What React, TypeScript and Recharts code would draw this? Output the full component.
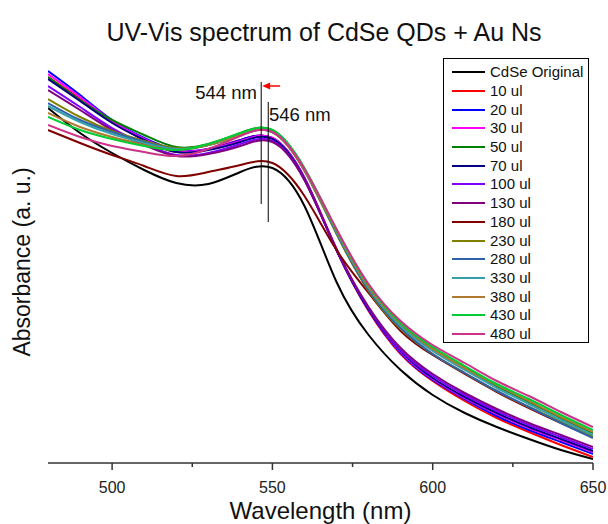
import { LineChart, Line, XAxis, YAxis, ReferenceLine } from 'recharts';

// wavelength (nm)
const WAVELENGTHS = [480, 490, 500, 510, 520, 530, 540, 550, 560, 570, 580, 590, 600, 610, 620, 630, 640, 650];

// absorbance (a. u.)
const CDSE_ORIGINAL = [3.55, 3.30, 3.10, 2.93, 2.80, 2.79, 2.91, 2.95, 2.57, 1.81, 1.28, 0.93, 0.68, 0.50, 0.36, 0.24, 0.13, 0.04];
const UL_10 = [3.86, 3.64, 3.41, 3.23, 3.11, 3.14, 3.23, 3.25, 2.85, 2.13, 1.52, 1.09, 0.82, 0.62, 0.45, 0.31, 0.18, 0.06];
const UL_20 = [3.92, 3.68, 3.43, 3.25, 3.13, 3.14, 3.23, 3.25, 2.85, 2.13, 1.53, 1.10, 0.83, 0.64, 0.47, 0.33, 0.21, 0.09];
const UL_30 = [3.89, 3.66, 3.42, 3.24, 3.12, 3.14, 3.22, 3.25, 2.85, 2.14, 1.54, 1.11, 0.84, 0.65, 0.49, 0.35, 0.23, 0.11];
const UL_50 = [3.86, 3.63, 3.43, 3.28, 3.16, 3.19, 3.30, 3.33, 2.94, 2.32, 1.76, 1.38, 1.14, 0.95, 0.77, 0.61, 0.45, 0.30];
const UL_70 = [3.84, 3.62, 3.40, 3.23, 3.11, 3.13, 3.21, 3.24, 2.84, 2.13, 1.54, 1.12, 0.85, 0.66, 0.50, 0.36, 0.24, 0.12];
const UL_100 = [3.77, 3.56, 3.35, 3.19, 3.08, 3.10, 3.19, 3.22, 2.83, 2.13, 1.55, 1.13, 0.87, 0.68, 0.52, 0.38, 0.26, 0.14];
const UL_130 = [3.73, 3.53, 3.33, 3.18, 3.07, 3.09, 3.17, 3.21, 2.83, 2.14, 1.56, 1.15, 0.89, 0.70, 0.54, 0.40, 0.28, 0.16];
const UL_180 = [3.33, 3.20, 3.08, 2.97, 2.87, 2.91, 2.98, 3.00, 2.67, 2.13, 1.70, 1.32, 1.08, 0.89, 0.71, 0.55, 0.40, 0.26];
const UL_230 = [3.64, 3.46, 3.32, 3.22, 3.15, 3.18, 3.28, 3.31, 2.92, 2.29, 1.72, 1.34, 1.09, 0.90, 0.72, 0.56, 0.41, 0.26];
const UL_280 = [3.60, 3.43, 3.31, 3.21, 3.14, 3.18, 3.28, 3.31, 2.93, 2.30, 1.73, 1.35, 1.09, 0.90, 0.72, 0.56, 0.40, 0.25];
const UL_330 = [3.57, 3.41, 3.29, 3.20, 3.14, 3.18, 3.28, 3.31, 2.93, 2.31, 1.75, 1.37, 1.12, 0.93, 0.75, 0.59, 0.43, 0.28];
const UL_380 = [3.50, 3.36, 3.26, 3.18, 3.13, 3.18, 3.28, 3.31, 2.93, 2.32, 1.76, 1.39, 1.14, 0.95, 0.78, 0.62, 0.46, 0.31];
const UL_430 = [3.46, 3.33, 3.24, 3.17, 3.13, 3.19, 3.30, 3.33, 2.95, 2.33, 1.78, 1.40, 1.16, 0.97, 0.79, 0.64, 0.48, 0.33];
const UL_480 = [3.38, 3.26, 3.17, 3.11, 3.07, 3.14, 3.27, 3.31, 2.94, 2.34, 1.79, 1.42, 1.18, 1.00, 0.82, 0.67, 0.51, 0.36];

const X_TICKS = [500, 525, 550, 575, 600, 625, 650];
const X_LABELED = [500, 550, 600, 650];

const SERIES = [
  { key: 'cdse', name: 'CdSe Original', color: '#000000', values: CDSE_ORIGINAL },
  { key: 'u10', name: '10 ul', color: '#FF0000', values: UL_10 },
  { key: 'u20', name: '20 ul', color: '#0000FF', values: UL_20 },
  { key: 'u30', name: '30 ul', color: '#FF00FF', values: UL_30 },
  { key: 'u50', name: '50 ul', color: '#008000', values: UL_50 },
  { key: 'u70', name: '70 ul', color: '#000080', values: UL_70 },
  { key: 'u100', name: '100 ul', color: '#8000FF', values: UL_100 },
  { key: 'u130', name: '130 ul', color: '#800080', values: UL_130 },
  { key: 'u180', name: '180 ul', color: '#800000', values: UL_180 },
  { key: 'u230', name: '230 ul', color: '#808000', values: UL_230 },
  { key: 'u280', name: '280 ul', color: '#2F62A8', values: UL_280 },
  { key: 'u330', name: '330 ul', color: '#33A0AA', values: UL_330 },
  { key: 'u380', name: '380 ul', color: '#B07830', values: UL_380 },
  { key: 'u430', name: '430 ul', color: '#00CC33', values: UL_430 },
  { key: 'u480', name: '480 ul', color: '#CC3388', values: UL_480 },
];

const data = WAVELENGTHS.map((wl, i) => {
  const row: Record<string, number> = { wl };
  SERIES.forEach(s => { row[s.key] = s.values[i]; });
  return row;
});

const FONT = '"Liberation Sans", Arial, sans-serif';
const AXIS = '#333';

function BottomTick({ x, y, payload }: any) {
  const major = X_LABELED.includes(payload.value);
  return (
    <g>
      <line x1={x} x2={x} y1={y} y2={y + (major ? 7 : 4)} stroke={AXIS} strokeWidth={1.5} />
      {major && (
        <text x={x} y={y + 30} textAnchor="middle" fontSize={16} fill="#222" fontFamily={FONT}>
          {payload.value}
        </text>
      )}
    </g>
  );
}

function TopTick({ x, y, payload }: any) {
  const major = X_LABELED.includes(payload.value);
  return <line x1={x} x2={x} y1={y} y2={y + (major ? 5 : 3)} stroke={AXIS} strokeWidth={1.5} />;
}

// red arrow pointing at the shifted peak
function Arrow(p: any) {
  const { x1, y1, x2, y2 } = p;
  return (
    <g>
      <line x1={x1} y1={y1} x2={x2 + 5} y2={y2} stroke="#FF0000" strokeWidth={1.5} />
      <polygon points={`${x2},${y2} ${x2 + 8},${y2 - 3.5} ${x2 + 8},${y2 + 3.5}`} fill="#FF0000" />
    </g>
  );
}

export default function App() {
  return (
    <div style={{ position: 'absolute', left: 0, top: 0, width: 608, height: 524, background: '#fff', fontFamily: FONT, color: '#111' }}>
      <LineChart width={608} height={524} data={data} margin={{ top: 56, right: 15, bottom: 0, left: 48 }}>
        <XAxis
          dataKey="wl"
          type="number"
          domain={[480, 650]}
          ticks={X_TICKS}
          height={61}
          tickSize={0}
          tickMargin={0}
          tickLine={false}
          tick={<BottomTick />}
          axisLine={{ stroke: AXIS, strokeWidth: 1.5 }}
          allowDataOverflow
        />
        <XAxis
          xAxisId="top"
          orientation="top"
          dataKey="wl"
          type="number"
          domain={[480, 650]}
          ticks={X_TICKS}
          height={0}
          tickSize={0}
          tickMargin={0}
          tickLine={false}
          tick={<TopTick />}
          axisLine={{ stroke: AXIS, strokeWidth: 1.5 }}
        />
        <YAxis width={0} domain={[0, 4.07]} tick={false} tickLine={false} axisLine={{ stroke: AXIS, strokeWidth: 1.5 }} allowDataOverflow />
        <YAxis yAxisId="right" orientation="right" width={0} domain={[0, 4.07]} tick={false} tickLine={false} axisLine={{ stroke: AXIS, strokeWidth: 1.5 }} />
        {SERIES.map(s => (
          <Line
            key={s.key}
            type="natural"
            dataKey={s.key}
            stroke={s.color}
            strokeWidth={2}
            dot={false}
            isAnimationActive={false}
          />
        ))}
        <ReferenceLine segment={[{ x: 546.5, y: 3.81 }, { x: 546.5, y: 2.59 }]} stroke="#000" strokeWidth={1} />
        <ReferenceLine segment={[{ x: 548.7, y: 3.61 }, { x: 548.7, y: 2.41 }]} stroke="#000" strokeWidth={1} />
        <ReferenceLine segment={[{ x: 552.4, y: 3.77 }, { x: 546.8, y: 3.77 }]} stroke="#FF0000" shape={Arrow} />
      </LineChart>

      <div style={{ position: 'absolute', left: 0, width: 608, top: 18, paddingLeft: 40, boxSizing: 'border-box', textAlign: 'center', fontSize: 25, lineHeight: '28px' }}>
        UV-Vis spectrum of CdSe QDs + Au Ns
      </div>
      <div style={{ position: 'absolute', left: 48, width: 545, top: 497, textAlign: 'center', fontSize: 24, lineHeight: '28px' }}>
        Wavelength (nm)
      </div>
      <div style={{ position: 'absolute', left: 22, top: 262, transform: 'translate(-50%, -50%) rotate(-90deg)', whiteSpace: 'nowrap', fontSize: 23, lineHeight: '26px' }}>
        Absorbance (a. u.)
      </div>
      <div style={{ position: 'absolute', right: 608 - 257, top: 82, fontSize: 18.5, lineHeight: '22px', whiteSpace: 'nowrap' }}>544 nm</div>
      <div style={{ position: 'absolute', left: 269, top: 104, fontSize: 18.5, lineHeight: '22px', whiteSpace: 'nowrap' }}>546 nm</div>

      <div style={{ position: 'absolute', left: 443, top: 58, width: 146, height: 285, border: '1px solid #000', boxSizing: 'border-box', background: '#fff', paddingTop: 4 }}>
        {SERIES.map(s => (
          <div key={s.key} style={{ display: 'flex', alignItems: 'center', height: 18.7 }}>
            <span style={{ display: 'inline-block', marginLeft: 8, width: 33, height: 2, background: s.color }} />
            <span style={{ marginLeft: 5, fontSize: 15, lineHeight: '18px', whiteSpace: 'nowrap' }}>{s.name}</span>
          </div>
        ))}
      </div>
    </div>
  );
}
